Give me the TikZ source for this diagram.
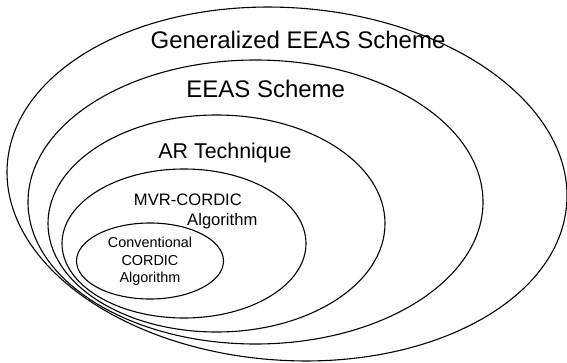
\documentclass[tikz,border=0pt]{standalone}
\usepackage{fontspec}
\setmainfont{Liberation Sans}
\usetikzlibrary{positioning}

\begin{document}
\begin{tikzpicture}[
  x=1pt, y=1pt,
  ring/.style={draw, line width=1.1pt},
  big/.style={font=\fontsize{24}{28}\selectfont, inner sep=0pt, anchor=base},
  mid/.style={font=\fontsize{21.4}{25}\selectfont, inner sep=0pt, anchor=base},
  small/.style={font=\fontsize{16.6}{20}\selectfont, inner sep=0pt, anchor=base},
  tiny/.style={font=\fontsize{14.4}{17.5}\selectfont, inner sep=0pt, align=center}
]
  \useasboundingbox (0,0) rectangle (567,362);

  % nested sets, outermost first
  \draw[ring, rotate around={-4:(287,178)}] (287,178) ellipse [x radius=280.4, y radius=176.3];
  \draw[ring] (255.5,160) ellipse [x radius=227.5, y radius=142];
  \draw[ring] (216.5,138.5) ellipse [x radius=168.5, y radius=108.5];
  \draw[ring] (184,118.5) ellipse [x radius=122, y radius=74.5];
  \draw[ring] (150,101) ellipse [x radius=73.5, y radius=38];

  % labels
  \node[big] (gen) at (298,313.3) {Generalized EEAS Scheme};
  \node[big] (eeas) at (265.7,264) {EEAS Scheme};
  \node[mid] (ar) at (225,204) {AR Technique};
  \node[small] (mvr) at (187.9,157) {MVR-CORDIC};
  \node[small] (mvralg) at (222.3,137) {Algorithm};
  \node[tiny] (conv) at (150,100.3) {Conventional\\CORDIC\\Algorithm};
\end{tikzpicture}
\end{document}
